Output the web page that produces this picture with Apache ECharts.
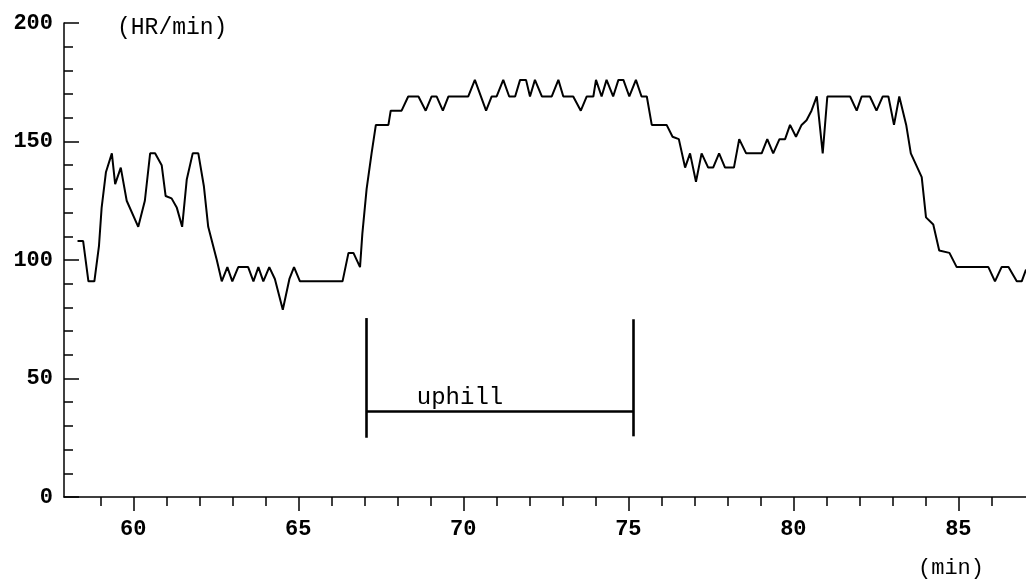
<!DOCTYPE html>
<html>
<head>
<meta charset="utf-8">
<title>HR uphill</title>
<script src="https://cdn.jsdelivr.net/npm/echarts@6/dist/echarts.min.js"></script>
<style>
    html, body { margin: 0; padding: 0; background: #fff; }
    #chart { width: 1026px; height: 579px; }
</style>
</head>
<body>
<div id="chart"></div>
<script>
// time (min) and heart rate (HR/min)
const times = [
    58.31, 58.48, 58.64, 58.82, 58.96, 59.04, 59.17, 59.35, 59.45, 59.62, 59.80, 60.15, 60.35, 60.51, 60.66,
    60.86, 60.98, 61.16, 61.32, 61.48, 61.62, 61.80, 61.97, 62.14, 62.27, 62.53, 62.68, 62.85, 63.00, 63.18,
    63.48, 63.64, 63.79, 63.94, 64.12, 64.29, 64.53, 64.73, 64.87, 65.05, 66.34, 66.52, 66.67, 66.87, 66.94,
    67.07, 67.22, 67.35, 67.73, 67.80, 68.13, 68.33, 68.64, 68.86, 69.04, 69.19, 69.38, 69.55, 70.15, 70.35,
    70.69, 70.86, 71.01, 71.21, 71.39, 71.57, 71.72, 71.90, 72.02, 72.17, 72.38, 72.68, 72.88, 73.03, 73.33,
    73.56, 73.74, 73.94, 74.02, 74.19, 74.34, 74.54, 74.70, 74.85, 75.03, 75.23, 75.40, 75.56, 75.71, 76.16,
    76.34, 76.53, 76.72, 76.87, 77.05, 77.22, 77.42, 77.57, 77.75, 77.93, 78.20, 78.36, 78.57, 79.04, 79.21,
    79.39, 79.58, 79.75, 79.90, 80.08, 80.25, 80.40, 80.55, 80.71, 80.89, 81.03, 81.72, 81.92, 82.07, 82.32,
    82.52, 82.71, 82.88, 83.05, 83.21, 83.42, 83.56, 83.89, 84.02, 84.24, 84.42, 84.73, 84.95, 85.91, 86.11,
    86.31, 86.52, 86.77, 86.92, 87.05
]
const hr = [
    108, 108, 91, 91, 106, 122, 137, 145, 132, 139, 125, 114, 125, 145, 145,
    140, 127, 126, 122, 114, 134, 145, 145, 131, 114, 100, 91, 97, 91, 97,
    97, 91, 97, 91, 97, 92, 79, 92, 97, 91, 91, 103, 103, 97, 111,
    130, 145, 157, 157, 163, 163, 169, 169, 163, 169, 169, 163, 169, 169, 176,
    163, 169, 169, 176, 169, 169, 176, 176, 169, 176, 169, 169, 176, 169, 169,
    163, 169, 169, 176, 169, 176, 169, 176, 176, 169, 176, 169, 169, 157, 157,
    152, 151, 139, 145, 133, 145, 139, 139, 145, 139, 139, 151, 145, 145, 151,
    145, 151, 151, 157, 152, 157, 159, 163, 169, 145, 169, 169, 163, 169, 169,
    163, 169, 169, 157, 169, 157, 145, 135, 118, 115, 104, 103, 97, 97, 91,
    97, 97, 91, 91, 96
]

// uphill bracket: start / end time, bar level, vertical extent of the end marks
const uphillTimes = [67.05, 75.15]
const uphillLevel = 36
const uphillLeftSpan = [25, 75.5]
const uphillRightSpan = [25.6, 75]

// axis ticks
const majorX = [60, 65, 70, 75, 80, 85]
const minorX = [59, 61, 62, 63, 64, 66, 67, 68, 69, 71, 72, 73, 74, 76, 77, 78, 79, 81, 82, 83, 84, 86]

const FONT = '"Liberation Mono", "DejaVu Sans Mono", monospace'
const X_MIN = 57.9
const X_MAX = 87.05

let myChart = echarts.init(document.getElementById('chart'))

let points = times.map((t, i) => [t, hr[i]])

let option = {
    backgroundColor: '#fff',
    animation: false,
    grid: {
        left: 64,
        top: 23,
        right: 0,
        bottom: 82
    },
    xAxis: [
        {
            type: 'value',
            min: X_MIN,
            max: X_MAX,
            axisLine: { show: true, lineStyle: { color: '#000', width: 1.5 } },
            axisTick: {
                show: true,
                customValues: majorX,
                length: 14,
                lineStyle: { color: '#000', width: 1.5 }
            },
            axisLabel: {
                customValues: majorX,
                margin: 21,
                color: '#000',
                fontFamily: FONT,
                fontSize: 22,
                fontWeight: 'bold'
            },
            splitLine: { show: false }
        },
        {
            // minor ticks only
            type: 'value',
            position: 'bottom',
            offset: 0,
            min: X_MIN,
            max: X_MAX,
            axisLine: { show: false },
            axisTick: {
                show: true,
                customValues: minorX,
                length: 9,
                lineStyle: { color: '#000', width: 1.5 }
            },
            axisLabel: { show: false },
            splitLine: { show: false }
        }
    ],
    yAxis: {
        type: 'value',
        min: 0,
        max: 200,
        interval: 50,
        axisLine: { show: true, lineStyle: { color: '#000', width: 1.5 } },
        axisTick: {
            show: true,
            inside: true,
            length: 15,
            lineStyle: { color: '#000', width: 1.5 }
        },
        minorTick: {
            show: true,
            splitNumber: 5,
            length: 9,
            lineStyle: { color: '#000', width: 1.5 }
        },
        axisLabel: {
            margin: 11,
            color: '#000',
            fontFamily: FONT,
            fontSize: 22,
            fontWeight: 'bold'
        },
        splitLine: { show: false }
    },
    graphic: [
        {
            type: 'text',
            left: 117,
            top: 16,
            style: { text: '(HR/min)', fill: '#000', font: '23px ' + FONT }
        },
        {
            type: 'text',
            left: 918,
            top: 557,
            style: { text: '(min)', fill: '#000', font: '22px ' + FONT }
        }
    ],
    series: [
        {
            name: 'HR',
            type: 'line',
            data: points,
            showSymbol: false,
            lineStyle: { color: '#000', width: 2 },
            z: 3
        },
        {
            // uphill bracket
            name: 'uphill',
            type: 'scatter',
            data: [[(uphillTimes[0] + uphillTimes[1]) / 2 - 1.2, uphillLevel + 6]],
            symbolSize: 0,
            itemStyle: { opacity: 1 },
            label: {
                show: true,
                formatter: 'uphill',
                color: '#000',
                opacity: 1,
                fontFamily: FONT,
                fontSize: 24,
                position: 'inside'
            },
            markLine: {
                silent: true,
                symbol: 'none',
                label: { show: false },
                lineStyle: { color: '#000', width: 2.6, type: 'solid', opacity: 1 },
                data: [
                    [{ coord: [uphillTimes[0], uphillLeftSpan[1]] }, { coord: [uphillTimes[0], uphillLeftSpan[0]] }],
                    [{ coord: [uphillTimes[0], uphillLevel] }, { coord: [uphillTimes[1], uphillLevel] }],
                    [{ coord: [uphillTimes[1], uphillRightSpan[1]] }, { coord: [uphillTimes[1], uphillRightSpan[0]] }]
                ]
            }
        }
    ]
}
myChart.setOption(option)
</script>
</body>
</html>
